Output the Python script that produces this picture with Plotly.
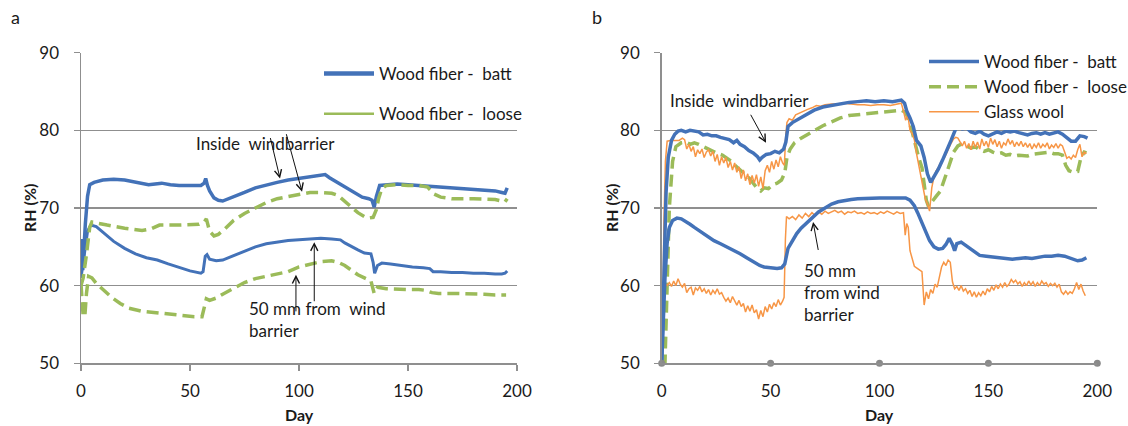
import plotly.graph_objects as go

# ---------------- data ----------------
# Panel a
a_batt_in = [(0,66),(0.8,62),(2,68),(3,71.5),(4,73),(6,73.3),(10,73.6),(15,73.7),(20,73.6),(25,73.3),(28,73.2),
             (31,73.0),(34,73.1),(37,73.2),(41,73.0),(45,72.9),(50,72.9),(55,72.9),(56.5,73.2),(57.2,73.8),(58,72.9),
             (59,72.2),(61,71.3),(63,71.0),(65,70.9),(67,71.1),(70,71.5),(75,72.0),(80,72.6),(85,73.0),(90,73.3),
             (95,73.6),(100,73.8),(105,74.0),(110,74.3),(112,74.3),(114,73.9),(117,73.4),(120,72.8),(123,72.3),
             (126,71.8),(129,71.4),(132,71.2),(133.5,71.0),(134.5,70.1),(135.5,71.5),(137,72.9),(140,73.0),(145,73.1),
             (150,73.0),(155,72.9),(160,72.9),(165,72.7),(170,72.6),(175,72.5),(180,72.4),(185,72.3),(190,72.2),
             (193,72.0),(194.5,71.9),(195.5,72.6)]
a_loose_in = [(0,60),(1,61),(2.5,64),(4,67.5),(5,68.2),(8,68.0),(12,67.8),(20,67.4),(28,67.1),(32,67.3),(36,67.8),
              (45,67.8),(54,67.9),(56.5,68.2),(57.5,68.6),(59,67.0),(61,66.4),(63,66.6),(66,67.3),(70,68.4),(75,69.3),
              (80,70.0),(85,70.7),(90,71.2),(95,71.5),(100,71.8),(105,72.0),(110,72.0),(115,71.9),(118,71.6),(121,70.9),
              (124,70.1),(127,69.4),(130,68.9),(132,68.7),(134,68.8),(135.5,69.8),(136.5,71.2),(138,72.5),(140,72.9),
              (145,73.0),(150,72.9),(155,72.9),(159,72.7),(160.5,72.2),(162,71.8),(165,71.4),(170,71.2),(180,71.2),
              (190,71.1),(193,70.9),(194.5,70.8),(195.5,71.2)]
a_batt_50 = [(0,61),(0.5,62),(1.5,64.5),(3,67),(4.5,67.8),(7,67.6),(10,66.9),(15,65.7),(20,64.8),(25,64.1),(30,63.6),
             (35,63.3),(40,62.8),(45,62.3),(50,61.9),(55,61.6),(56,61.8),(57,63.8),(57.8,64.0),(59,63.4),(62,63.2),
             (65,63.3),(70,63.9),(75,64.5),(80,65.0),(85,65.4),(90,65.6),(95,65.8),(100,65.9),(105,66.0),(110,66.1),
             (115,66.0),(119,65.9),(121,65.5),(124,65.0),(127,64.6),(130,64.2),(133,64.1),(134,63.0),(134.7,61.6),
             (136,62.6),(138,62.9),(142,62.8),(147,62.6),(152,62.4),(157,62.3),(160,62.2),(161.5,61.8),(165,61.8),
             (170,61.7),(175,61.7),(180,61.6),(185,61.6),(190,61.5),(193,61.5),(194.5,61.6),(195.5,61.9)]
a_loose_50 = [(0,60.2),(0.5,57.5),(1,56.0),(1.8,56.2),(2.5,59),(3.5,61.2),(5,61),(7,60.3),(10,59.5),(14,58.5),
              (18,57.7),(22,57.1),(28,56.7),(34,56.5),(40,56.3),(46,56.1),(52,56.0),(55.5,56.0),(56.5,57.2),
              (57.5,58.3),(59,58.1),(62,58.4),(65,58.9),(70,59.7),(75,60.4),(80,60.9),(85,61.2),(90,61.5),(95,61.8),
              (100,62.4),(105,62.8),(110,63.1),(115,63.2),(118,63.0),(121,62.6),(124,62.0),(127,61.4),(130,61.0),
              (133,60.6),(134.5,59.0),(136,59.8),(140,59.6),(145,59.5),(150,59.5),(155,59.5),(158,59.4),(161,59.1),
              (164,59.0),(170,59.0),(175,59.0),(180,59.0),(185,58.9),(190,58.8),(195,58.8)]

# Panel b
b_batt_in = [(0,50),(0.5,55),(1,61),(2,72),(3,76.5),(4.5,78.7),(6,79.5),(7.5,79.9),(9,80.0),(11,79.8),(13,80.0),
             (15,79.9),(17,79.8),(19,79.4),(21,79.5),(23,79.3),(25,79.3),(27,79.1),(29,78.9),(31,78.8),(33,78.4),
             (34.5,78.7),(36,78.2),(38,77.9),(40,77.4),(42,77.1),(44,76.6),(45,76.2),(46,76.5),(48,76.9),(50,77.0),
             (52,77.3),(54,77.1),(56,77.6),(57,78.5),(58,80.5),(60,81.0),(63,81.5),(66,82.0),(70,82.6),(74,83.0),
             (78,83.2),(82,83.5),(86,83.6),(90,83.7),(94,83.8),(98,83.7),(102,83.8),(106,83.7),(110,83.9),(111.5,83.5),
             (112.5,82.5),(114,81.6),(115.5,80.5),(117,78.7),(119,78.0),(120.5,76.5),(122,74.4),(123.5,73.3),
             (125,74.0),(127,75.0),(129,76.2),(131,77.4),(133,78.8),(135,80.2),(136.5,80.5),(138,80.2),(140,80.3),
             (142,79.8),(144,79.6),(146,79.9),(148,79.5),(150,79.3),(152,79.5),(154,79.8),(156,79.6),(158,79.9),
             (160,79.8),(162,79.9),(164,79.7),(166,79.6),(168,79.4),(170,79.6),(172,79.7),(174,79.5),(176,79.7),
             (178,79.5),(180,79.6),(182,79.8),(184,79.5),(186,79.0),(188,78.6),(190,78.6),(192,79.3),(194,79.2),
             (195.5,79.0)]
b_loose_in = [(0,50),(1.5,50),(2.5,60),(3.5,70),(5,76),(6.5,77.9),(9,78.4),(11,78.5),(13,78.2),(15,78.4),(17,78.2),
              (19,77.9),(22,77.5),(25,77.1),(28,76.8),(30,76.4),(32,76.0),(34,75.4),(36,74.9),(38,74.4),(40,73.9),
              (42,73.2),(44,72.5),(45.5,72.2),(47,72.6),(49,72.5),(51,73.0),(53,73.2),(55,73.6),(56.5,74.5),
              (57.5,76.5),(59,77.6),(61,78.4),(64,79.0),(67,79.5),(70,79.9),(74,80.6),(78,81.1),(82,81.6),(86,81.9),
              (90,82.0),(94,82.1),(98,82.3),(102,82.4),(106,82.5),(110,82.6),(112,82.3),(113.5,81.3),(115,79.8),
              (116.5,78.0),(118,76.5),(119.5,75.2),(120.5,73.0),(121.5,71.0),(122.5,70.2),(124,70.8),(126,71.5),
              (128,72.2),(130,73.7),(132,75.5),(134,77.2),(136,78.0),(138,78.3),(140,78.0),(142,77.7),(144,77.9),
              (146,77.5),(148,77.3),(150,77.5),(152,77.2),(154,77.0),(156,77.1),(158,76.8),(160,76.9),(162,76.7),
              (164,76.8),(166,76.8),(168,76.7),(170,76.9),(172,77.0),(174,77.1),(176,77.2),(178,77.2),(180,77.0),
              (182,77.0),(184,76.8),(185.5,75.5),(187,74.8),(189,74.6),(191,74.7),(192.5,76.5),(194,77.2),(195,77.1)]
b_glass_in = [(0,50),(0.5,55),(1,68),(1.7,76),(2.5,78.6),(4,78.7),(6,78.7),(8,78.7),(9.5,79.0),(10.5,78.8),
              (11.5,77.6),(12.5,78.2),(13.5,77.3),(14.5,77.9),(15.5,76.6),(16.5,77.5),(17.5,77.0),(18.5,77.6),
              (19.5,76.5),(20.5,77.2),(21.5,77.5),(22.5,76.7),(23.5,77.3),(24.5,76.0),(25.5,76.9),(26.5,75.5),
              (27.5,76.6),(28.5,75.8),(29.5,76.5),(30.5,75.2),(31.5,76.0),(32.5,74.9),(33.5,75.8),(34.5,74.6),
              (35.5,75.3),(36.5,73.8),(37.5,74.9),(38.5,73.5),(39.5,74.4),(40.5,73.0),(41.5,74.2),(42.5,73.2),
              (43.5,74.3),(44.5,72.8),(45.5,74.0),(46.5,72.5),(47.5,74.8),(48.5,75.5),(49.5,74.6),(50.5,76.0),
              (51.5,75.0),(52.5,76.2),(53.5,75.3),(54.5,76.6),(55.5,75.8),(56.3,75.5),(57,79.5),(57.5,81.0),
              (58.5,81.5),(60,81.3),(61.5,82.0),(63,82.2),(65,82.5),(67,82.7),(69,82.9),(71,83.2),(73,83.1),
              (75,83.3),(78,83.4),(81,83.4),(84,83.5),(87,83.4),(90,83.3),(93,83.3),(96,83.2),(99,83.3),(102,83.3),
              (105,83.2),(108,83.4),(110,83.5),(111,82.5),(112,81.3),(113,82.0),(114,80.0),(115,79.6),(116,78.8),
              (117,77.0),(118,75.5),(119,74.0),(120,73.0),(121,71.2),(122,70.5),(123,69.6),(124,72.6),(125,74.0),
              (126,74.8),(127,75.2),(128,75.8),(129,76.2),(130,76.6),(131,77.2),(132,77.9),(133,78.4),(134,78.9),
              (135,79.1),(136,79.0),(137,78.4),(138,78.0),(139,78.6),(140,77.7),(141,78.3),(142,77.5),(143,78.6),
              (144,77.8),(145,78.5),(146,77.6),(147,78.9),(148,78.0),(149,78.6),(150,77.8),(151,79.0),(152,78.2),
              (153,78.8),(154,77.9),(155,78.6),(156,77.7),(157,78.4),(158,78.1),(159,78.9),(160,78.2),(161,78.7),
              (162,77.9),(163,78.5),(164,78.0),(165,78.6),(166,77.9),(167,78.4),(168,77.8),(169,78.3),(170,77.6),
              (171,78.2),(172,77.8),(173,78.4),(174,77.7),(175,78.2),(176,77.9),(177,78.4),(178,77.6),(179,78.1),
              (180,77.8),(181,78.3),(182,77.7),(183,78.2),(184,78.0),(185,77.2),(186,76.4),(187,76.6),(188,76.3),
              (189,76.8),(190,76.5),(191,77.5),(192,78.2),(193,76.6),(194,77.2),(195,77.0)]
b_batt_50 = [(0,50),(0.5,54),(1,57),(1.5,61),(2.5,65.5),(3.5,67.5),(5,68.4),(7,68.7),(9,68.6),(11,68.3),(13,67.9),
             (15,67.5),(18,66.9),(21,66.3),(24,65.8),(27,65.4),(30,65.0),(33,64.6),(36,64.1),(39,63.6),(42,63.1),
             (45,62.6),(47,62.4),(49,62.3),(51,62.3),(53,62.2),(55,62.3),(56.5,62.8),(58,64.8),(60,65.8),(62,66.7),
             (64,67.4),(66,67.9),(68,68.5),(70,69.0),(72,69.5),(75,70.0),(78,70.5),(81,70.8),(84,71.0),(87,71.1),
             (90,71.2),(95,71.3),(100,71.3),(105,71.3),(110,71.3),(112,71.3),(114,71.0),(116,70.3),(117.5,69.4),
             (119,68.4),(121,67.2),(123,65.8),(125,65.0),(127,64.7),(129,64.8),(130.5,65.3),(132,66.1),(133.5,65.3),
             (134.5,64.5),(135.5,65.4),(137.5,65.6),(140,65.1),(142,64.6),(144,64.2),(146,63.9),(149,63.8),
             (152,63.7),(155,63.7),(158,63.6),(161,63.4),(164,63.5),(167,63.6),(170,63.5),(173,63.7),(176,63.8),
             (179,63.8),(182,63.9),(185,63.8),(187,63.6),(189,63.3),(191,63.2),(193,63.3),(195,63.6)]
b_glass_50 = [(0,50),(0.5,52),(1,58),(1.5,60.3),(2.5,60.0),(3.5,60.4),(4.5,59.9),(5.5,60.6),(6.5,60.0),(7.5,60.9),
              (8.5,60.2),(9.5,59.8),(10.5,60.3),(11.5,59.1),(12.5,59.6),(13.5,59.8),(14.5,58.8),(15.5,59.7),
              (16.5,59.4),(17.5,59.9),(18.5,59.2),(19.5,59.6),(20.5,59.0),(21.5,59.5),(22.5,58.8),(23.5,59.4),
              (24.5,59.0),(25.5,59.6),(26.5,58.9),(27.5,59.1),(28.5,58.5),(29.5,58.0),(30.5,58.4),(31.5,57.8),
              (32.5,58.6),(33.5,58.0),(34.5,57.5),(35.5,58.1),(36.5,57.3),(37.5,57.7),(38.5,56.6),(39.5,57.4),
              (40.5,56.7),(41.5,57.5),(42.5,56.5),(43.5,56.9),(44.5,55.7),(45.5,56.8),(46.5,56.0),(47.5,57.3),
              (48.5,56.6),(49.5,57.6),(50.5,57.0),(51.5,57.8),(52.5,57.3),(53.5,58.2),(54.5,57.5),(55.5,58.0),
              (56.2,58.5),(56.8,66),(57.3,68.9),(58.5,68.6),(60,68.9),(61.5,68.5),(63,69.1),(64.5,68.7),(66,69.3),
              (67.5,68.9),(69,69.4),(70.5,69.0),(72,69.5),(73.5,69.2),(75,69.6),(76.5,69.3),(78,69.5),(79.5,69.7),
              (81,69.4),(82.5,69.6),(84,69.2),(85.5,69.5),(87,69.4),(88.5,69.6),(90,69.3),(91.5,69.4),(93,69.2),
              (94.5,69.5),(96,69.3),(97.5,69.4),(99,69.2),(100.5,69.5),(102,69.3),(103.5,69.6),(105,69.4),
              (106.5,69.2),(108,69.5),(109.5,69.3),(111,69.4),(111.8,66.5),(112.5,68.0),(113.2,67.5),(114,64.5),
              (115,63.5),(116,62.5),(117,62.3),(118.5,62.0),(119.5,61.8),(120.5,57.5),(121.5,59.2),(122.5,58.3),
              (123.5,59.5),(124.5,59.0),(125.5,60.2),(126.5,59.8),(127.5,61.3),(128.5,62.4),(129.5,63.0),
              (130.5,62.6),(131.5,63.3),(132.5,63.0),(133.5,60.5),(134.5,59.6),(135.5,59.9),(136.5,59.4),
              (137.5,60.0),(138.5,59.3),(139.5,59.6),(140.5,59.0),(141.5,59.4),(142.5,58.6),(143.5,59.2),
              (144.5,58.5),(145.5,59.1),(146.5,58.7),(147.5,59.3),(148.5,58.8),(149.5,59.6),(150.5,59.2),
              (151.5,59.9),(152.5,59.4),(153.5,60.1),(154.5,59.6),(155.5,60.2),(156.5,59.8),(157.5,60.4),
              (158.5,59.9),(159.5,60.2),(160.5,60.8),(161.5,60.4),(162.5,60.7),(163.5,60.2),(164.5,60.5),
              (165.5,59.9),(166.5,60.4),(167.5,60.0),(168.5,60.6),(169.5,60.1),(170.5,60.5),(171.5,59.9),
              (172.5,60.4),(173.5,60.0),(174.5,60.6),(175.5,60.2),(176.5,60.4),(177.5,59.9),(178.5,60.3),
              (179.5,60.0),(180.5,60.3),(181.5,59.8),(182.5,60.2),(183.5,59.2),(184.5,58.9),(185.5,59.3),
              (186.5,58.9),(187.5,59.2),(188.5,59.0),(189.5,59.6),(190.5,60.4),(191.5,59.5),(192.5,60.2),
              (193.5,59.3),(194.5,58.7)]

x_ticks = [0, 50, 100, 150, 200]
y_ticks = [50, 60, 70, 80, 90]
name_batt = "Wood fiber -\u00a0 batt"
name_loose = "Wood fiber -\u00a0 loose"
name_glass = "Glass wool"

# ---------------- styling ----------------
W, H = 1128, 426
BLUE = "#4372B8"
GREEN = "#9BBB59"
ORANGE = "#F79646"
GRID = "#8f8f8f"
TXT = "#1a1a1a"
FONT = "Lato"
DASH = "12px,6px"
TICK_SIZE = 17
LEG_SIZE = 17
ANN_SIZE = 17

def px(x):
    return x / W

def py(y):
    return 1 - y / H

def xs(s):
    return [p[0] for p in s]

def ys(s):
    return [p[1] for p in s]

fig = go.Figure()

# panel a
fig.add_trace(go.Scatter(x=xs(a_batt_in), y=ys(a_batt_in), mode="lines", line=dict(color=BLUE, width=3.5),
                         showlegend=False, xaxis="x", yaxis="y"))
fig.add_trace(go.Scatter(x=xs(a_batt_50), y=ys(a_batt_50), mode="lines", line=dict(color=BLUE, width=3),
                         showlegend=False, xaxis="x", yaxis="y"))
fig.add_trace(go.Scatter(x=xs(a_loose_in), y=ys(a_loose_in), mode="lines", line=dict(color=GREEN, width=3.5, dash=DASH),
                         showlegend=False, xaxis="x", yaxis="y"))
fig.add_trace(go.Scatter(x=xs(a_loose_50), y=ys(a_loose_50), mode="lines", line=dict(color=GREEN, width=3.5, dash=DASH),
                         showlegend=False, xaxis="x", yaxis="y"))
# legend entries panel a
fig.add_trace(go.Scatter(x=[None], y=[None], mode="lines", line=dict(color=BLUE, width=4.5), name=name_batt,
                         legend="legend", legendgroup="a1", xaxis="x", yaxis="y"))
fig.add_trace(go.Scatter(x=[None], y=[None], mode="lines", line=dict(color=GREEN, width=2.5), name=name_loose,
                         legend="legend", legendgroup="a2", xaxis="x", yaxis="y"))

# panel b
fig.add_trace(go.Scatter(x=xs(b_loose_in), y=ys(b_loose_in), mode="lines", line=dict(color=GREEN, width=3.5, dash=DASH),
                         name=name_loose, legend="legend2", legendrank=2, xaxis="x2", yaxis="y2"))
fig.add_trace(go.Scatter(x=xs(b_glass_in), y=ys(b_glass_in), mode="lines", line=dict(color=ORANGE, width=1.5),
                         name=name_glass, legend="legend2", legendrank=3, xaxis="x2", yaxis="y2"))
fig.add_trace(go.Scatter(x=xs(b_glass_50), y=ys(b_glass_50), mode="lines", line=dict(color=ORANGE, width=1.5),
                         showlegend=False, xaxis="x2", yaxis="y2"))
fig.add_trace(go.Scatter(x=xs(b_batt_in), y=ys(b_batt_in), mode="lines", line=dict(color=BLUE, width=3.5),
                         name=name_batt, legend="legend2", legendrank=1, xaxis="x2", yaxis="y2"))
fig.add_trace(go.Scatter(x=xs(b_batt_50), y=ys(b_batt_50), mode="lines", line=dict(color=BLUE, width=3.5),
                         showlegend=False, xaxis="x2", yaxis="y2"))
# round tick marks on panel b x axis
fig.add_trace(go.Scatter(x=x_ticks, y=[y_ticks[0]] * len(x_ticks), mode="markers",
                         marker=dict(color="#8a8a8a", size=7), cliponaxis=False, showlegend=False,
                         hoverinfo="skip", xaxis="x2", yaxis="y2"))

# ---------------- axes ----------------
y_top, y_bot = 52.7, 363.3
ydom = [py(y_bot), py(y_top)]
ax_common = dict(range=[0, 200], tickvals=x_ticks, showgrid=False, zeroline=False, showline=True,
                 linecolor=GRID, linewidth=1.5, tickfont=dict(family=FONT, size=TICK_SIZE, color=TXT),
                 fixedrange=True, automargin=False)
ay_common = dict(range=[50, 90], tickvals=y_ticks, showgrid=True, gridcolor=GRID, gridwidth=1.5,
                 zeroline=False, showline=True, linecolor=GRID, linewidth=1.5, ticks="outside", ticklen=6,
                 tickcolor=GRID, tickwidth=1.5, tickfont=dict(family=FONT, size=TICK_SIZE, color=TXT),
                 ticklabelstandoff=11, fixedrange=True, automargin=False)

fig.update_layout(
    width=W, height=H, margin=dict(l=0, r=0, t=0, b=0, pad=0, autoexpand=False),
    paper_bgcolor="white", plot_bgcolor="white",
    xaxis=dict(domain=[px(81), px(517)], anchor="y", ticks="outside", ticklen=6, tickcolor=GRID, tickwidth=1.5,
               ticklabelstandoff=6, **ax_common),
    yaxis=dict(domain=ydom, anchor="x", **ay_common),
    xaxis2=dict(domain=[px(661.7), px(1097.3)], anchor="y2", ticks="", ticklabelstandoff=12, **ax_common),
    yaxis2=dict(domain=ydom, anchor="x2", **ay_common),
    legend=dict(x=px(319), y=py(56), xanchor="left", yanchor="top", bgcolor="rgba(255,255,255,0)",
                font=dict(family=FONT, size=LEG_SIZE, color=TXT), tracegroupgap=15, itemwidth=50),
    legend2=dict(x=px(924), y=py(44), xanchor="left", yanchor="top", bgcolor="white",
                 font=dict(family=FONT, size=LEG_SIZE, color=TXT), tracegroupgap=0, itemwidth=50),
    showlegend=True,
)

# ---------------- text annotations ----------------
ann = []
def text(x, y, s, size=ANN_SIZE, bold=False, angle=0, xanchor="center", ref="paper", align="center"):
    ann.append(dict(x=x, y=y, xref=ref if ref == "paper" else ref[0], yref=ref if ref == "paper" else ref[1],
                    text=("<b>%s</b>" % s) if bold else s, showarrow=False, textangle=angle,
                    xanchor=xanchor, yanchor="middle", align=align,
                    font=dict(family=FONT, size=size, color=TXT)))

text(px(15), py(17), "a", size=18)
text(px(597), py(17), "b", size=18)
text(px(30), py(208), "RH (%)", size=16, bold=True, angle=-90)
text(px(612), py(208), "RH (%)", size=16, bold=True, angle=-90)
text(px(299), py(414), "Day", size=16, bold=True)
text(px(879), py(414), "Day", size=16, bold=True)

# data-anchored labels
text(84.5, 78.35, "Inside\u00a0 windbarrier", ref=("x", "y"))
text(76, 55.6, "50 mm from\u00a0 wind<br>barrier", ref=("x", "y"), xanchor="left", align="left")
text(35.5, 83.9, "Inside\u00a0 windbarrier", ref=("x2", "y2"))
text(64.2, 59.1, "50 mm<br>from wind<br>barrier", ref=("x2", "y2"), xanchor="left", align="left")

def arrow(xr, yr, x0, y0, x1, y1):
    ann.append(dict(xref=xr, yref=yr, axref=xr, ayref=yr, x=x1, y=y1, ax=x0, ay=y0, text="",
                    showarrow=True, arrowhead=5, arrowsize=1.4, arrowwidth=1, arrowcolor="#111111"))

arrow("x", "y", 86.7, 79.2, 91.3, 73.8)
arrow("x", "y", 94.0, 79.7, 101.4, 72.1)
arrow("x", "y", 98.6, 56.5, 98.6, 61.4)
arrow("x", "y", 107.0, 57.8, 107.0, 65.6)
arrow("x2", "y2", 40.5, 82.2, 47.9, 78.4)
arrow("x2", "y2", 72.0, 64.4, 69.5, 68.2)

fig.update_layout(annotations=ann)
fig.write_html("out.html", config={"displayModeBar": False, "staticPlot": True},
               post_script="document.body.style.margin='0px';")
